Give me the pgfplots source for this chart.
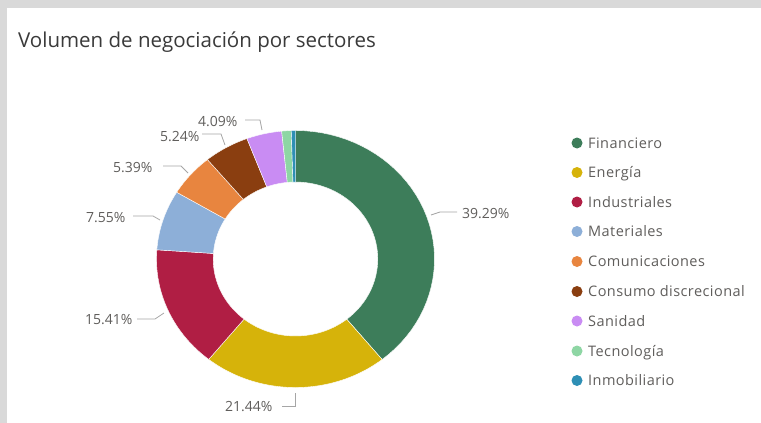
\documentclass[border=0pt]{standalone}
\usepackage{pgfplots}
\pgfplotsset{compat=1.18}
\usepackage{fontspec}
\setmainfont{Open Sans}
\newfontfamily\legfont[LetterSpace=3]{Open Sans}
\definecolor{cFin}{HTML}{3D7D5A}
\definecolor{cEne}{HTML}{D6B30A}
\definecolor{cInd}{HTML}{B01E44}
\definecolor{cMat}{HTML}{8DAFD8}
\definecolor{cCom}{HTML}{E8853F}
\definecolor{cCon}{HTML}{8A3E10}
\definecolor{cSan}{HTML}{C98CF3}
\definecolor{cTec}{HTML}{8ED6A4}
\definecolor{cInm}{HTML}{2E8FB5}
\definecolor{bg}{HTML}{D9D9D9}
\definecolor{ttl}{HTML}{3A3A3A}
\definecolor{lbl}{HTML}{605E5C}
\definecolor{ldr}{HTML}{A6A6A6}
% donut geometry (pixels)
\def\cx{295.5}\def\cy{259}\def\rxo{139}\def\ryo{128.5}\def\rxi{82.3}\def\ryi{77}
% start percentage, end percentage, colour
\newcommand{\sector}[3]{%
\addplot[fill=#3, draw=white, line width=0.4pt, variable=\t,
  samples at={0,0.025,...,0.975,0.99999,1.00001,1.025,...,2}]
  ({\cx + ((\t<1) ? \rxo : \rxi)*cos(90-3.6*((\t<1) ? (#1+(#2-#1)*\t) : (#2-(#2-#1)*(\t-1))))},
   {\cy - ((\t<1) ? \ryo : \ryi)*sin(90-3.6*((\t<1) ? (#1+(#2-#1)*\t) : (#2-(#2-#1)*(\t-1))))}) -- cycle;
}
\begin{document}
\begin{tikzpicture}
\begin{axis}[x=1pt, y=1pt, y dir=reverse, xmin=0, xmax=761, ymin=0, ymax=423,
  hide axis, clip=false, scale only axis]
\fill[bg] (axis cs:0,0) rectangle (axis cs:761,423);
\fill[white] (axis cs:7,8) rectangle (axis cs:761,423);
\node[anchor=base west, text=ttl, font=\fontsize{20.5}{24}\selectfont, inner sep=0pt] at (axis cs:18,47) {Volumen de negociación por sectores};
% sectors: cumulative start and end, in percent
\sector{0}{39.29}{cFin}
\sector{39.29}{60.73}{cEne}
\sector{60.73}{76.14}{cInd}
\sector{76.14}{83.69}{cMat}
\sector{83.69}{89.08}{cCom}
\sector{89.08}{94.32}{cCon}
\sector{94.32}{98.41}{cSan}
\sector{98.41}{99.51}{cTec}
\sector{99.51}{100}{cInm}
% data labels with leaders
\begin{scope}[every node/.style={text=lbl, font=\fontsize{14}{16}\selectfont, inner sep=0pt}]
\node[anchor=base west] at (axis cs:462,218) {39.29\%};
\draw[ldr, line width=0.8pt] (axis cs:431,215) -- (axis cs:440,212) -- (axis cs:457,212);
\node[anchor=base west] at (axis cs:225,411) {21.44\%};
\draw[ldr, line width=0.8pt] (axis cs:282,406) -- (axis cs:295,406) -- (axis cs:295,393);
\node[anchor=base west] at (axis cs:85,324) {15.41\%};
\draw[ldr, line width=0.8pt] (axis cs:137,319) -- (axis cs:155,319) -- (axis cs:164,313);
\node[anchor=base west] at (axis cs:86,222) {7.55\%};
\draw[ldr, line width=0.8pt] (axis cs:133,216) -- (axis cs:153,216) -- (axis cs:160,220);
\node[anchor=base west] at (axis cs:113,172) {5.39\%};
\draw[ldr, line width=0.8pt] (axis cs:163,166) -- (axis cs:181,166) -- (axis cs:188,173);
\node[anchor=base west] at (axis cs:160,141) {5.24\%};
\draw[ldr, line width=0.8pt] (axis cs:202,134) -- (axis cs:221,134) -- (axis cs:225,145);
\node[anchor=base west] at (axis cs:198,126) {4.09\%};
\draw[ldr, line width=0.8pt] (axis cs:245,120) -- (axis cs:260,120) -- (axis cs:262,130);
\end{scope}
% legend
\begin{scope}[every node/.style={text=lbl, font=\legfont\fontsize{14.5}{17}\selectfont, inner sep=0pt, anchor=base west}]
\fill[cFin] (axis cs:577,143) circle (5.5pt); \node at (axis cs:588,148) {Financiero};
\fill[cEne] (axis cs:577,172.5) circle (5.5pt); \node at (axis cs:588,177.5) {Energía};
\fill[cInd] (axis cs:577,202) circle (5.5pt); \node at (axis cs:588,207) {Industriales};
\fill[cMat] (axis cs:577,231.5) circle (5.5pt); \node at (axis cs:588,236.5) {Materiales};
\fill[cCom] (axis cs:577,261.5) circle (5.5pt); \node at (axis cs:588,266.5) {Comunicaciones};
\fill[cCon] (axis cs:577,291.5) circle (5.5pt); \node at (axis cs:588,296.5) {Consumo discrecional};
\fill[cSan] (axis cs:577,321) circle (5.5pt); \node at (axis cs:588,326) {Sanidad};
\fill[cTec] (axis cs:577,351) circle (5.5pt); \node at (axis cs:588,356) {Tecnología};
\fill[cInm] (axis cs:577,380.5) circle (5.5pt); \node at (axis cs:588,385.5) {Inmobiliario};
\end{scope}
\end{axis}
\end{tikzpicture}
\end{document}
